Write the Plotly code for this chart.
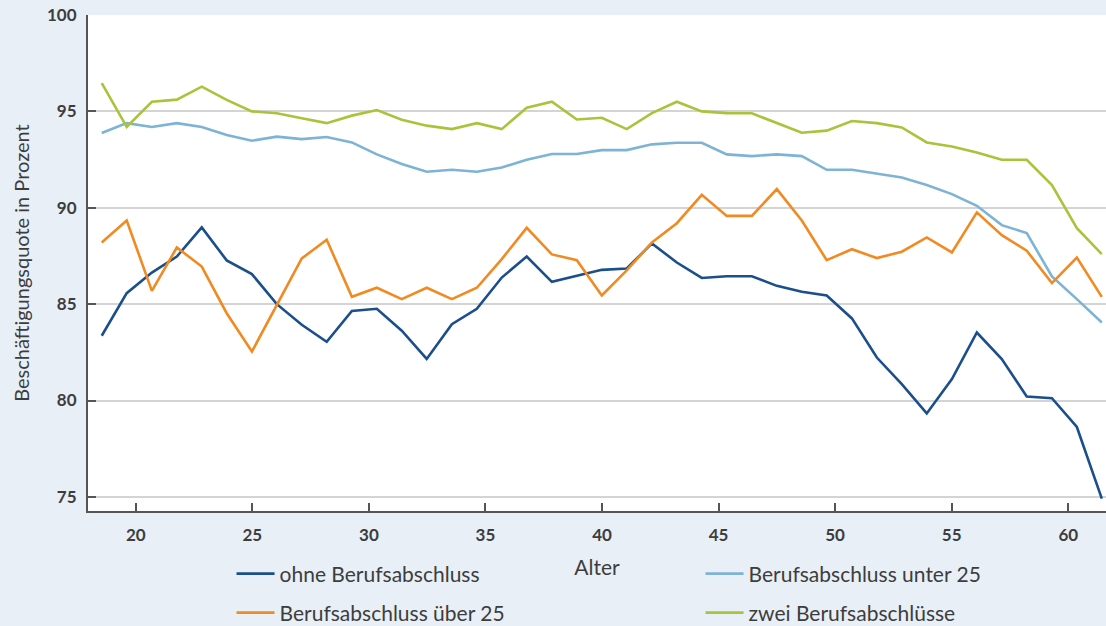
import plotly.graph_objects as go

alter = [18.54, 19.61, 20.69, 21.76, 22.83, 23.90, 24.98, 26.05, 27.12, 28.19,
         29.27, 30.34, 31.41, 32.48, 33.56, 34.63, 35.70, 36.77, 37.85, 38.92,
         39.99, 41.06, 42.14, 43.21, 44.28, 45.35, 46.43, 47.50, 48.57, 49.64,
         50.72, 51.79, 52.86, 53.93, 55.01, 56.08, 57.15, 58.22, 59.30, 60.37,
         61.44]

ohne = [83.36, 85.57, 86.64, 87.47, 88.98, 87.27, 86.56, 85.00, 83.93, 83.05,
        84.65, 84.76, 83.62, 82.16, 83.96, 84.76, 86.38, 87.47, 86.16, 86.47,
        86.78, 86.85, 88.15, 87.16, 86.36, 86.45, 86.45, 85.95, 85.64, 85.45,
        84.26, 82.23, 80.85, 79.33, 81.11, 83.53, 82.15, 80.21, 80.12, 78.63,
        74.91]

unter25 = [93.88, 94.39, 94.19, 94.39, 94.19, 93.77, 93.48, 93.69, 93.56, 93.67,
           93.39, 92.77, 92.27, 91.87, 91.97, 91.87, 92.09, 92.49, 92.79, 92.79,
           92.99, 92.99, 93.29, 93.37, 93.37, 92.77, 92.68, 92.77, 92.68, 91.97,
           91.97, 91.78, 91.57, 91.18, 90.71, 90.10, 89.10, 88.69, 86.44, 85.26,
           84.05]

ueber25 = [88.20, 89.34, 85.69, 87.94, 86.95, 84.53, 82.54, 84.97, 87.37, 88.34,
           85.38, 85.85, 85.26, 85.85, 85.26, 85.85, 87.34, 88.96, 87.58, 87.28,
           85.45, 86.75, 88.20, 89.20, 90.67, 89.58, 89.58, 90.97, 89.34, 87.28,
           87.85, 87.39, 87.72, 88.46, 87.68, 89.76, 88.58, 87.77, 86.09, 87.42,
           85.38]

zwei = [96.47, 94.20, 95.50, 95.61, 96.28, 95.60, 95.00, 94.90, 94.64, 94.39,
        94.78, 95.07, 94.57, 94.26, 94.08, 94.39, 94.08, 95.19, 95.50, 94.58,
        94.67, 94.08, 94.91, 95.50, 95.00, 94.91, 94.90, 94.39, 93.89, 94.00,
        94.50, 94.39, 94.17, 93.39, 93.18, 92.87, 92.49, 92.49, 91.18, 88.94,
        87.60]

x_ticks = [20, 25, 30, 35, 40, 45, 50, 55, 60]
y_ticks = [75, 80, 85, 90, 95, 100]

BG = "#E8EFF6"
AX = "#555555"
TXT = "#3d3d3d"

series = [
    ("ohne Berufsabschluss", ohne, "#1B4F8B", "legend"),
    ("Berufsabschluss unter 25", unter25, "#7DB3D5", "legend"),
    ("Berufsabschluss über 25", ueber25, "#F28A22", "legend2"),
    ("zwei Berufsabschlüsse", zwei, "#A8C43A", "legend2"),
]

fig = go.Figure()
for name, vals, col, leg in series:
    fig.add_trace(go.Scatter(x=alter, y=vals, mode="lines", name=name,
                             line=dict(color=col, width=2.6), legend=leg))

legend_common = dict(orientation="h", xanchor="left", yanchor="middle",
                     bgcolor="rgba(0,0,0,0)", borderwidth=0, itemwidth=38,
                     entrywidth=416, entrywidthmode="pixels",
                     font=dict(family="Lato", size=21, color=TXT))

fig.update_layout(
    width=1106, height=626,
    margin=dict(l=88, r=0, t=15, b=115, autoexpand=False),
    paper_bgcolor=BG, plot_bgcolor="white",
    showlegend=True,
    legend=dict(x=0.141, y=-0.127, **legend_common),
    legend2=dict(x=0.141, y=-0.2056, **legend_common),
    xaxis=dict(range=[17.95, 61.62], tickvals=x_ticks,
               ticktext=[str(v) for v in x_ticks],
               ticks="inside", ticklen=8, tickwidth=1.5, tickcolor=AX,
               showline=True, linecolor=AX, linewidth=2, showgrid=False,
               zeroline=False, ticklabelstandoff=8,
               tickfont=dict(family="Lato", size=17, color=TXT, weight="bold"),
               title=dict(text="Alter", standoff=16,
                          font=dict(family="Lato", size=21, color=TXT))),
    yaxis=dict(range=[74.27, 100], tickvals=y_ticks,
               ticktext=[str(v) for v in y_ticks],
               ticks="inside", ticklen=8, tickwidth=1.5, tickcolor=AX,
               showline=True, linecolor=AX, linewidth=2,
               showgrid=True, gridcolor="#D4D4D4", gridwidth=1.5,
               zeroline=False, ticklabelstandoff=6,
               tickfont=dict(family="Lato", size=17, color=TXT, weight="bold"),
               title=dict(text="Beschäftigungsquote in Prozent", standoff=12,
                          font=dict(family="Lato", size=20, color=TXT))),
)

fig.write_html("out.html",
               config={"displayModeBar": False},
               post_script="document.body.style.margin='0';"
                           "document.body.style.overflow='hidden';")
